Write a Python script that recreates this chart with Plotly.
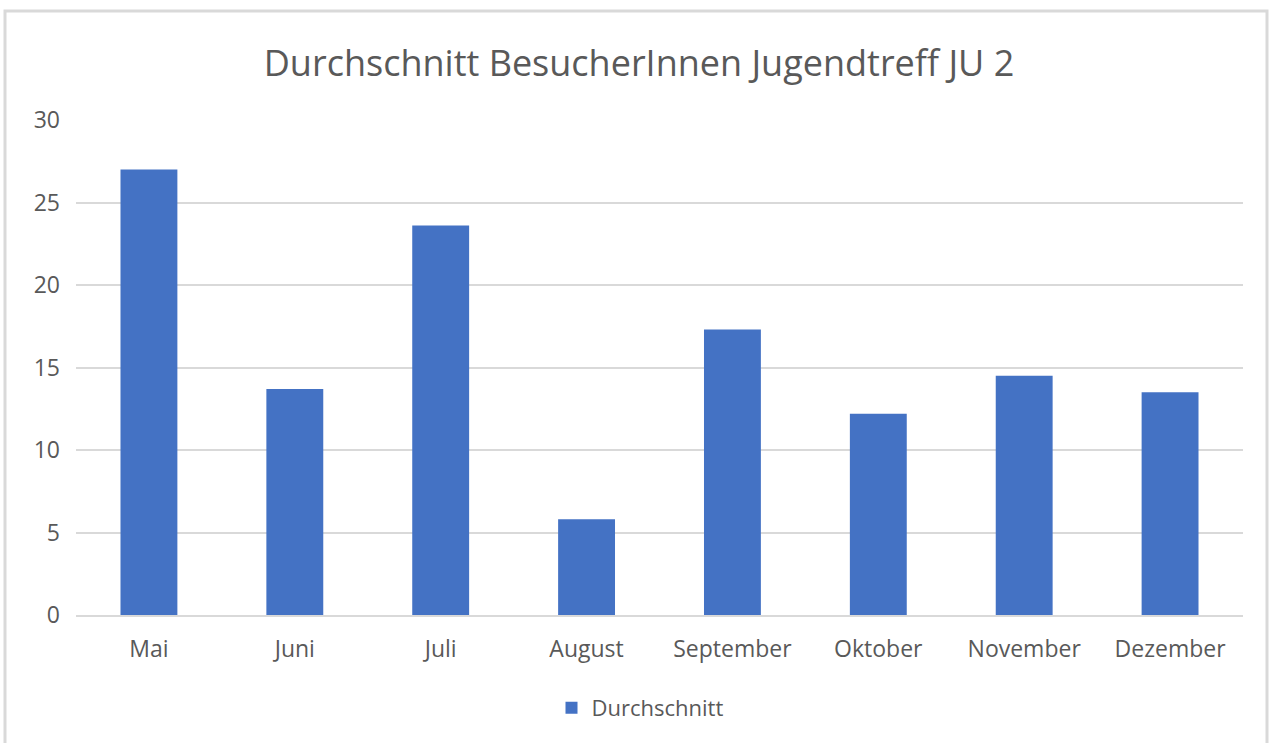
"""Bar chart: average visitors per month, youth centre JU 2."""

import plotly.graph_objects as go

MONTHS = ['Mai', 'Juni', 'Juli', 'August', 'September', 'Oktober', 'November', 'Dezember']
AVERAGE = [27.0, 13.7, 23.6, 5.8, 17.3, 12.2, 14.5, 13.5]
Y_TICKS = [0, 5, 10, 15, 20, 25, 30]

BAR_COLOR = '#4472C4'
TEXT_COLOR = '#595959'
GRID_COLOR = '#d9d9d9'
FONT = 'Open Sans, sans-serif'

W, H = 1270, 743
M_L, M_R, M_T, M_B = 76, 1270 - 1243, 120, 743 - 615
PW = W - M_L - M_R
PH = H - M_T - M_B


def px_x(px):
    # pixel -> paper x
    return (px - M_L) / PW


def px_y(py):
    # pixel (from top) -> paper y
    return (H - M_B - py) / PH


fig = go.Figure(go.Bar(
    x=MONTHS,
    y=AVERAGE,
    name='Durchschnitt',
    marker=dict(color=BAR_COLOR, line=dict(width=0)),
    showlegend=True,
))

fig.update_layout(
    width=W,
    height=H,
    margin=dict(l=M_L, r=M_R, t=M_T, b=M_B),
    paper_bgcolor='white',
    plot_bgcolor='white',
    bargap=0.61,
    font=dict(family=FONT, size=22, color=TEXT_COLOR),
    title=dict(
        text='Durchschnitt BesucherInnen Jugendtreff JU 2',
        x=px_x(639), xanchor='center', xref='paper',
        y=1 - 63 / H, yanchor='middle',
        font=dict(family=FONT, size=36, color=TEXT_COLOR),
    ),
    xaxis=dict(
        type='category',
        showgrid=False,
        showline=True,
        linecolor=GRID_COLOR,
        linewidth=2,
        ticks='',
        ticklabelstandoff=12,
        tickfont=dict(size=23),
        fixedrange=True,
    ),
    yaxis=dict(
        range=[0, 30],
        tickvals=Y_TICKS,
        showgrid=True,
        gridcolor=GRID_COLOR,
        gridwidth=2,
        zeroline=False,
        showline=False,
        ticks='',
        ticklabelstandoff=15,
        tickfont=dict(size=23),
        fixedrange=True,
    ),
    legend=dict(
        orientation='h',
        x=px_x(640), xanchor='center',
        y=px_y(708), yanchor='middle',
        font=dict(size=22),
        itemwidth=30,
    ),
    shapes=[
        dict(
            type='rect', xref='paper', yref='paper',
            x0=px_x(5), x1=px_x(1267), y0=px_y(748), y1=px_y(11),
            line=dict(color=GRID_COLOR, width=3),
            fillcolor='rgba(0,0,0,0)',
            layer='below',
        )
    ],
)

# drop the default page margin so the figure sits at the window origin
fig.write_html(
    "out.html",
    config={'displayModeBar': False},
    post_script="document.body.style.margin='0';",
)
